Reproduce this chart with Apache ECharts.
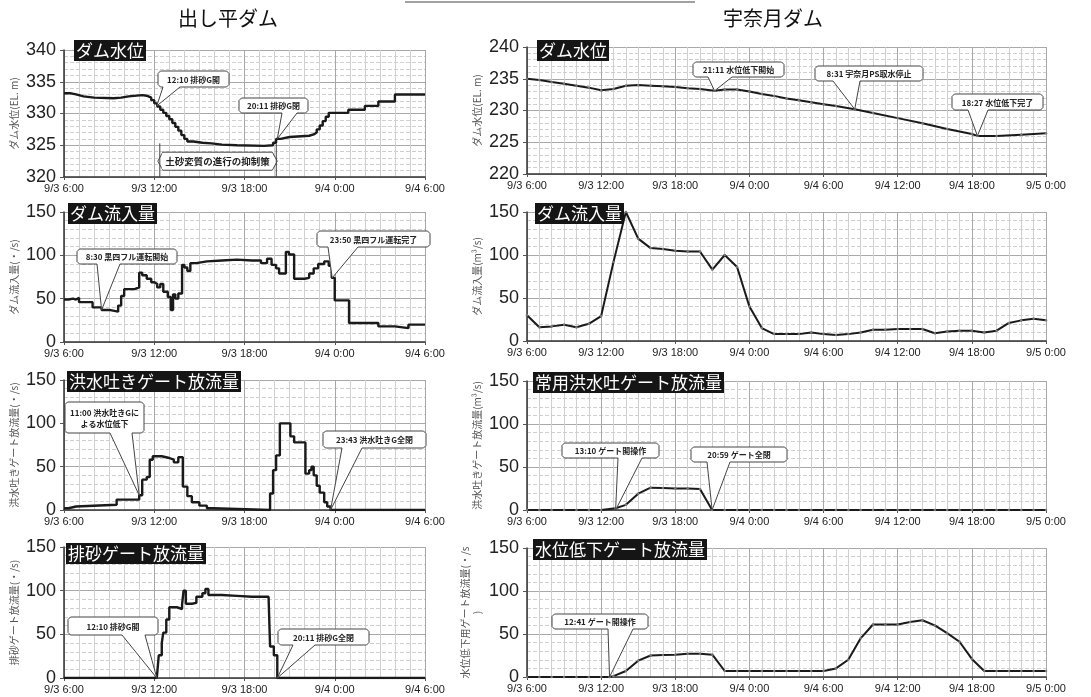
<!DOCTYPE html>
<html><head><meta charset="utf-8">
<script src="https://cdn.jsdelivr.net/npm/echarts@6/dist/echarts.min.js"></script>
<style>html,body{margin:0;padding:0;background:#fff}#c{width:1091px;height:697px}</style>
</head><body><div id="c"></div><script>
// ---- data (x = hours from 9/3 0:00) ----
const dashiLevel = [[6.0,333.2],[6.4,333.0],[6.8,332.7],[7.3,332.5],[8.0,332.4],[9.3,332.5],[9.8,332.7],[10.3,332.9],[11.2,332.8],[11.5,332.5],[11.8,332.1],[12.0,331.6],[12.2,331.1],[12.4,330.6],[12.6,330.1],[12.8,329.6],[13.0,329.1],[13.2,328.5],[13.4,327.9],[13.6,327.3],[13.8,326.6],[14.0,326.0],[14.2,325.6],[14.6,325.4],[15.2,325.3],[15.8,325.1],[16.5,325.0],[17.5,324.9],[19.3,325.0],[19.9,325.4],[20.1,326.0],[20.4,326.3],[21.0,326.5],[22.3,326.7],[22.6,327.0],[22.8,327.5],[23.0,328.1],[23.2,328.8],[23.4,329.5],[23.6,330.1],[24.9,330.6],[26.0,331.2],[26.9,331.9],[28.0,333.0],[30.0,333.0]];
const dashiInflow = [[6.0,49],[6.3,50],[6.6,49],[6.8,51],[7.0,46],[7.9,40],[8.5,37],[9.0,35],[9.6,42],[9.8,53],[10.0,61],[10.7,63],[11.0,80],[11.2,77],[11.5,73],[11.8,69],[12.0,67],[12.2,63],[12.4,67],[12.6,58],[12.9,52],[13.1,37],[13.25,55],[13.4,50],[13.6,56],[13.85,89],[14.0,86],[14.2,82],[14.4,91],[14.8,93],[15.5,94],[16.5,95],[17.5,94],[18.5,94],[19.1,91],[19.5,96],[19.8,89],[20.1,85],[20.3,79],[20.75,104],[20.95,101],[21.3,73],[22.0,74],[22.3,79],[22.6,85],[22.9,90],[23.3,93],[23.6,88],[23.8,74],[24.0,48],[24.95,22],[26.9,18],[28.0,16],[28.9,20],[30.0,20]];
const dashiFloodGate = [[6.0,2],[6.3,4],[6.8,6],[9.5,12],[11.0,17],[11.2,35],[11.5,38],[11.7,58],[11.9,62],[12.5,60],[13.0,58],[13.3,55],[13.6,61],[13.9,27],[14.2,16],[14.5,9],[15.0,5],[15.5,2],[15.9,0],[19.7,19],[19.9,46],[20.1,63],[20.35,100],[21.05,85],[21.3,78],[22.05,42],[22.3,46],[22.45,50],[22.6,40],[22.8,28],[23.0,20],[23.3,9],[23.5,4],[23.72,0],[30.0,0]];
const dashiSandGate = [[6.0,0],[12.17,0],[12.3,26],[12.5,40],[12.6,52],[12.8,67],[13.0,81],[13.5,79],[13.85,84],[13.95,100],[14.1,85],[14.5,86],[14.8,93],[15.2,97],[15.4,102],[15.6,95],[16.5,94],[17.5,93],[18.5,93],[19.6,92],[19.7,36],[19.95,26],[20.18,0],[30.0,0]];
const unazukiLevel = [[6,235.0],[7,234.8],[8,234.5],[9,234.2],[10,233.9],[11,233.6],[12,233.2],[13,233.4],[14,233.9],[15,234.0],[16,233.9],[17,233.8],[18,233.7],[19,233.5],[20,233.4],[21.18,233.1],[22,233.3],[23,233.3],[24,233.0],[25,232.6],[26,232.3],[27,231.9],[28,231.6],[29,231.3],[30,231.0],[31,230.7],[32.52,230.2],[34,229.6],[36,228.8],[38,228.0],[40,227.1],[42,226.3],[42.45,226.0],[44,226.0],[46,226.2],[48,226.4]];
const unazukiInflow = [[6,30],[7,16],[8,17],[9,19],[10,16],[11,20],[12,29],[13,92],[14,150],[15,119],[16,108],[17,107],[18,105],[19,104],[20,104],[21,83],[22,100],[23,86],[24,40],[25,15],[26,8],[27,8],[28,8],[29,10],[30,8],[31,7],[32,8],[33,10],[34,13],[35,13],[36,14],[37,14],[38,14],[39,9],[40,11],[41,12],[42,12],[43,10],[44,12],[45,21],[46,24],[47,26],[48,24]];
const unazukiFloodGate = [[6,0],[7,0],[8,0],[9,0],[10,0],[11,0],[12,0],[13.17,2],[14,6],[15,19],[16,26],[17,25.5],[18,25],[19,25],[20,24.5],[20.98,0],[22,0],[23,0],[24,0],[25,0],[26,0],[27,0],[28,0],[29,0],[30,0],[31,0],[32,0],[33,0],[34,0],[35,0],[36,0],[37,0],[38,0],[39,0],[40,0],[41,0],[42,0],[43,0],[44,0],[45,0],[46,0],[47,0],[48,0]];
const unazukiLowerGate = [[6,0],[7,0],[8,0],[9,0],[10,0],[11,0],[12,0],[12.68,0],[13,1],[14,7],[15,19],[16,25],[17,25.5],[18,26],[19,27],[20,27],[21,26],[22,7],[23,7],[24,7],[25,7],[26,7],[27,7],[28,7],[29,7],[30,7],[31,10],[32,20],[33,45],[34,61],[35,61],[36,61],[37,64],[38,66],[39,60],[40,51],[41,41],[42,21],[43,7],[44,7],[45,7],[46,7],[47,7],[48,7]];

const columnTitles = ['出し平ダム','宇奈月ダム'];
const panelTitles = ['ダム水位','ダム流入量','洪水吐きゲート放流量','排砂ゲート放流量','ダム水位','ダム流入量','常用洪水吐ゲート放流量','水位低下ゲート放流量'];
const yNames = ['ダム水位(EL. m)','ダム流入量(・/s)','洪水吐きゲート放流量(・/s)','排砂ゲート放流量(・/s)','ダム水位(EL. m)','ダム流入量(m³/s)','洪水吐きゲート放流量(m³/s)','水位低下用ゲート放流量(・/s\n)'];
const seriesData = [dashiLevel,dashiInflow,dashiFloodGate,dashiSandGate,unazukiLevel,unazukiInflow,unazukiFloodGate,unazukiLowerGate];
const yRanges = [[320,340,5],[0,150,50],[0,150,50],[0,150,50],[220,240,5],[0,150,50],[0,150,50],[0,150,50]];
const xRanges = [[6,30],[6,30],[6,30],[6,30],[6,48],[6,48],[6,48],[6,48]];

// annotations: panel, time(h), value, text
const annotations = [
  [0,12.17,331.2,'12:10 排砂G開'],
  [0,20.18,326.0,'20:11 排砂G閉'],
  [1,8.5,37,'8:30 黒四フル運転開始'],
  [1,23.83,74,'23:50 黒四フル運転完了'],
  [2,11.0,17,'11:00 洪水吐きGに\nよる水位低下'],
  [2,23.72,0,'23:43 洪水吐きG全閉'],
  [3,12.17,0,'12:10 排砂G開'],
  [3,20.18,0,'20:11 排砂G全閉'],
  [4,21.18,233.1,'21:11 水位低下開始'],
  [4,32.52,230.2,'8:31 宇奈月PS取水停止'],
  [4,42.45,226.0,'18:27 水位低下完了'],
  [6,13.17,0,'13:10 ゲート開操作'],
  [6,20.98,0,'20:59 ゲート全閉'],
  [7,12.68,0,'12:41 ゲート開操作']
];
const bracket = {panel:0, from:12.17, to:20.18, top:325.3, text:'土砂変質の進行の抑制策'};

// ---- layout ----
const grids = [
  {left:64,top:50,width:361,height:127},
  {left:64,top:212,width:361,height:130},
  {left:64,top:380,width:361,height:130},
  {left:64,top:547,width:361,height:131},
  {left:527,top:47,width:519,height:127},
  {left:527,top:212,width:519,height:129},
  {left:527,top:381,width:519,height:129},
  {left:527,top:548,width:519,height:129}
];
const titlePos = [[74,40],[68,203],[67,371],[66,543],[537,40],[535,203],[533,372],[533,539]];
// callout boxes: x, y, w, h, wedge base x1, x2
const calloutBoxes = [
  [158,71,71,16,163,180],[239,98,69,15,282,297],
  [77,249,100,15,97,120],[317,231,113,16,328,358],
  [65,402,79,31,110,132],[323,431,103,17,342,362],
  [68,617,90,18,122,145],[278,629,91,16,293,315],
  [693,62,91,15,708,732],[815,66,108,15,833,860],[952,94,91,16,968,988],
  [562,443,97,15,618,642],[691,447,96,15,707,730],
  [552,614,96,15,608,633]
];

function fmtX(h){ const d = 3 + Math.floor(h/24); const hr = h % 24; return '9/' + d + ' ' + hr + ':00'; }

const chart = echarts.init(document.getElementById('c'));
const numFont = 'Liberation Sans Narrow, Liberation Sans, Arial, sans-serif';
const option = {
  animation:false,
  backgroundColor:'#fff',
  grid: grids.map(g=>Object.assign({containLabel:false},g)),
  title: panelTitles.map((t,i)=>({text:t,left:titlePos[i][0],top:titlePos[i][1],backgroundColor:'#151515',padding:[2,2],
    textStyle:{color:'#fff',fontSize:17,fontWeight:'normal',fontFamily:'Noto Sans CJK JP'},z:10})),
  xAxis: xRanges.map((r,i)=>({type:'value',gridIndex:i,min:r[0],max:r[1],interval:6,
    axisLine:{show:true,onZero:false,lineStyle:{color:'#333',width:1.5}},
    axisTick:{show:true,length:3,lineStyle:{color:'#555'}},
    axisLabel:{fontSize:11,color:'#222',margin:6,formatter:fmtX,showMinLabel:true,showMaxLabel:true,fontFamily:numFont},
    splitLine:{show:true,lineStyle:{color:'#a8a8a8',width:1}},
    minorTick:{show:false,splitNumber:6},
    minorSplitLine:{show:true,lineStyle:{color:'#d0d0d0',width:1}}})),
  yAxis: yRanges.map((r,i)=>({type:'value',gridIndex:i,min:r[0],max:r[1],interval:r[2],
    name:yNames[i],nameLocation:'middle',nameGap:44,nameRotate:90,
    nameTextStyle:{fontSize:10,color:'#555',fontFamily:'Noto Sans CJK JP',lineHeight:12},
    axisLine:{show:true,lineStyle:{color:'#333',width:1.5}},
    axisTick:{show:true,length:4,lineStyle:{color:'#555'}},
    axisLabel:{fontSize:18,color:'#222',margin:8,fontFamily:numFont},
    splitLine:{show:true,lineStyle:{color:'#a8a8a8',width:1}},
    minorTick:{show:false,splitNumber:5},
    minorSplitLine:{show:true,lineStyle:{color:'#cfcfcf',width:1,type:'dashed'}}})),
  series: seriesData.map((d,i)=>({type:'line',xAxisIndex:i,yAxisIndex:i,data:d,
    showSymbol: i>=4, symbol:'circle', symbolSize:2.5, itemStyle:{color:'#777',borderWidth:0},
    step: i<4 ? 'end' : false,
    lineStyle:{color:'#1a1a1a',width: i<4 ? 2.4 : 2},z:3}))
};
chart.setOption(option);

// ---- graphics: headers, callouts, bracket ----
const g = [];
g.push({type:'line',shape:{x1:405,y1:2,x2:695,y2:2},style:{stroke:'#444',lineWidth:1}});
g.push({type:'text',x:228,y:18,style:{text:columnTitles[0],fontSize:20,fill:'#111',align:'center',verticalAlign:'middle',fontFamily:'Noto Sans CJK JP'}});
g.push({type:'text',x:773,y:18,style:{text:columnTitles[1],fontSize:20,fill:'#111',align:'center',verticalAlign:'middle',fontFamily:'Noto Sans CJK JP'}});

annotations.forEach((a,k)=>{
  const tip = chart.convertToPixel({gridIndex:a[0]},[a[1],a[2]]);
  const b = calloutBoxes[k];
  const x=b[0], y=b[1], w=b[2], h=b[3], r=2.5;
  const pts = [[x+r,y],[x+w-r,y],[x+w,y+r],[x+w,y+h-r],[x+w-r,y+h],[b[5],y+h],[tip[0],tip[1]],[b[4],y+h],[x+r,y+h],[x,y+h-r],[x,y+r]];
  g.push({type:'polygon',z:20,shape:{points:pts},style:{fill:'#fff',stroke:'#444',lineWidth:1}});
  g.push({type:'text',z:21,x:x+w/2,y:y+h/2+0.5,style:{text:a[3],fontSize:8,fontWeight:'bold',fill:'#222',align:'center',verticalAlign:'middle',lineHeight:11,fontFamily:'Noto Sans CJK JP'}});
});

(function(){
  const gi = bracket.panel;
  const yAxisMin = yRanges[gi][0];
  const pL = chart.convertToPixel({gridIndex:gi},[bracket.from,bracket.top]);
  const pR = chart.convertToPixel({gridIndex:gi},[bracket.to,bracket.top]);
  const pB = chart.convertToPixel({gridIndex:gi},[bracket.from,yAxisMin]);
  const yc = (pL[1]+pB[1])/2+1, hh = 9;
  const xl = pL[0]+1, xr = pR[0];
  g.push({type:'polygon',z:20,shape:{points:[[xl,yc],[xl+5,yc-hh],[xr-5,yc-hh],[xr,yc],[xr-5,yc+hh],[xl+5,yc+hh]]},style:{fill:'#fff',stroke:'#444',lineWidth:1}});
  g.push({type:'line',z:21,shape:{x1:xl+2,y1:pL[1],x2:xl+2,y2:pB[1]},style:{stroke:'#444',lineWidth:1}});
  g.push({type:'line',z:21,shape:{x1:xr-1,y1:pR[1],x2:xr-1,y2:pB[1]},style:{stroke:'#444',lineWidth:1}});
  g.push({type:'rect',z:21,shape:{x:xl+4,y:yc-hh+1,width:xr-xl-9,height:2*hh-2},style:{fill:'#fff'}});
  g.push({type:'text',z:22,x:(xl+xr)/2,y:yc,style:{text:bracket.text,fontSize:9.5,fontWeight:'bold',fill:'#222',align:'center',verticalAlign:'middle',fontFamily:'Noto Sans CJK JP'}});
})();
chart.setOption({graphic:g});
</script></body></html>
